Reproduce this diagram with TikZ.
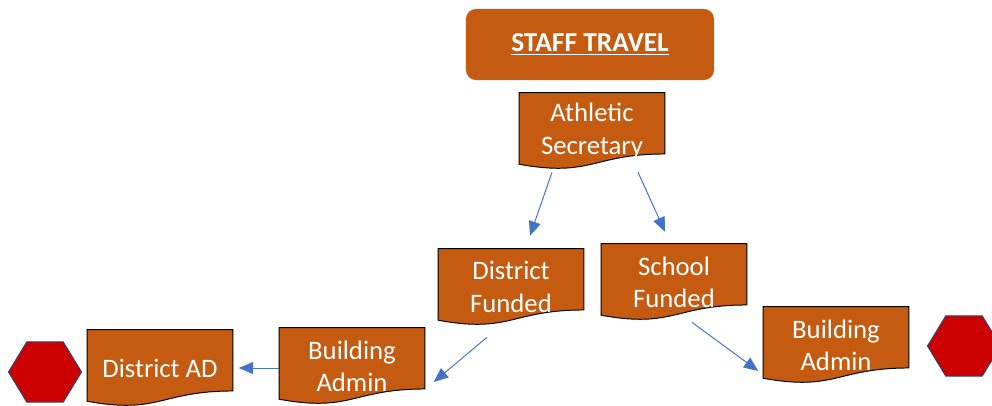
\documentclass[tikz,border=0pt]{standalone}
\usepackage{fontspec}
\setmainfont{Carlito}
\usetikzlibrary{calc,shapes.geometric,arrows.meta,backgrounds}
\definecolor{docfill}{HTML}{C55A11}
\definecolor{arrowblue}{HTML}{4472C4}
\definecolor{stopred}{HTML}{CC0000}
\definecolor{stopline}{HTML}{2F3F6F}
\tikzset{
  doc/.style={minimum width=3.625cm, minimum height=1.9cm, inner sep=0pt, text=white,
    align=center, font=\fontsize{19}{23}\selectfont},
  headbox/.style={fill=docfill, rounded corners=0.25cm, minimum width=6.2cm, minimum height=1.775cm,
    text=white, font=\fontsize{19.5}{23}\selectfont\bfseries},
  flow/.style={draw=arrowblue, line width=0.7pt, -{Triangle[length=0.36cm,width=0.3cm]}},
  stopsign/.style={regular polygon, regular polygon sides=6, minimum size=1.825cm, inner sep=0pt,
    fill=stopred, draw=stopline, line width=0.7pt, yscale=0.95}
}
\begin{document}
\begin{tikzpicture}[x=0.025cm, y=-0.025cm]
    \clip (0,0) rectangle (992,406);
    \node[headbox] (title) at (590,44.5) {\underline{STAFF TRAVEL}};
    \node[doc] (sec) at (592,131) {Athletic\\Secretary};
    \node[doc] (dfund) at (511,287) {District\\Funded};
    \node[doc] (sfund) at (674,282) {School\\Funded};
    \node[doc] (dad) at (160,368) {District AD};
    \node[doc] (badm1) at (352,366) {Building\\Admin};
    \node[doc] (badm2) at (836,345) {Building\\Admin};
    \node[stopsign] (stopl) at (45,372) {};
    \node[stopsign] (stopr) at (964,346) {};
    \begin{scope}[on background layer]
    \foreach \n in {sec,dfund,sfund,dad,badm1,badm2}
      \draw[fill=docfill, line width=0.7pt] (\n.north west) -- (\n.north east)
        -- ($(\n.south east)!0.2!(\n.north east)$)
        .. controls ($(\n.south)!0.2!(\n.north)$) and ($(\n.south)!-0.107!(\n.north)$)
        .. ($(\n.south west)!0.066!(\n.north west)$) -- cycle;
    \end{scope}
    \draw[flow] ($(sec.south)+(-40,3)$) -- ($(dfund.north)+(19,-13)$);
    \draw[flow] ($(sec.south)+(46,3)$) -- ($(sfund.north)+(-9,-12)$);
    \draw[flow] ($(dfund.south)+(-24,12)$) -- ($(badm1.east)+(9,16)$);
    \draw[flow] ($(sfund.south)+(18,2)$) -- ($(badm2.west)+(-5,26)$);
    \draw[flow] ($(badm1.west)+(0,2)$) -- ($(dad.east)+(6,0)$);
\end{tikzpicture}
\end{document}
